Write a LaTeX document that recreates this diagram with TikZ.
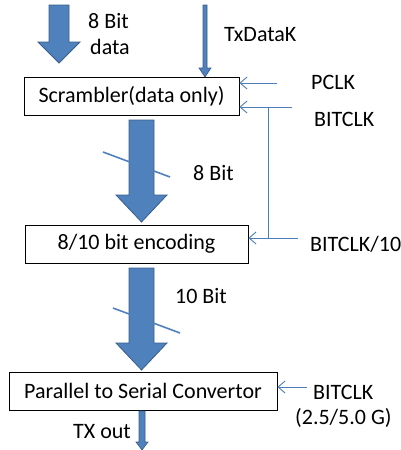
\documentclass[tikz,border=0pt]{standalone}
\usepackage{fontspec}
\setmainfont{Carlito}
\usetikzlibrary{arrows.meta}
\definecolor{arrowfill}{HTML}{4F81BD}
\definecolor{arrowedge}{HTML}{385D8A}
\definecolor{clkline}{HTML}{4A7EBB}
\tikzset{
  stage/.style={draw=black, line width=0.8pt, minimum height=38pt, inner sep=0pt, font=\fontsize{22}{26}\selectfont},
  lbl/.style={anchor=west, inner sep=0pt, font=\fontsize{22}{26}\selectfont},
  blockarrow/.style={fill=arrowfill, draw=arrowedge, line width=0.8pt, line join=miter},
  clk/.style={draw=clkline, line width=0.9pt, -{Straight Barb[length=7pt,width=12pt]}},
  clkwire/.style={draw=clkline, line width=0.9pt},
  buswidth/.style={draw=arrowfill, line width=1.6pt}
}
\begin{document}
\begin{tikzpicture}[x=1pt,y=-1pt]
\useasboundingbox (0,0) rectangle (400,450);

% processing stages
\node[stage, minimum width=215pt] (scr) at (131.5,96) {Scrambler(data only)};
\node[stage, minimum width=223pt] (enc) at (136.5,244) {8/10 bit encoding};
\node[stage, minimum width=268pt] (p2s) at (143,391) {Parallel to Serial Convertor};

% labels
\node[lbl] (l8a) at (88,21) {8 Bit};
\node[lbl] (l8b) at (90,47) {data};
\node[lbl] (ltx) at (224,35) {TxDataK};
\node[lbl] (lpclk) at (311,82) {PCLK};
\node[lbl] (lbit) at (314,119) {BITCLK};
\node[lbl] (l8) at (193,173) {8 Bit};
\node[lbl] (lbit10) at (310,244) {BITCLK/10};
\node[lbl] (l10) at (175,296) {10 Bit};
\node[lbl] (lbit2) at (313,392) {BITCLK};
\node[lbl] (lrate) at (295,418) {(2.5/5.0 G)};
\node[lbl] (lout) at (73,432) {TX out};

% wide data arrows
\draw[blockarrow] (49,5) -- (69,5) -- (69,42) -- (80,42) -- (59,63) -- (38,42) -- (49,42) -- cycle;
\draw[blockarrow] (129,120) -- (154,120) -- (154,195) -- (167,195) -- (141.5,222) -- (116,195) -- (129,195) -- cycle;
\draw[blockarrow] (129,268) -- (154,268) -- (154,343) -- (167,343) -- (141.5,370) -- (116,343) -- (129,343) -- cycle;

% narrow control / output arrows
\draw[blockarrow, line width=0.6pt] (203,5) -- (207,5) -- (207,68) -- (211,68) -- (205,77) -- (199,68) -- (203,68) -- cycle;
\draw[blockarrow, line width=0.6pt] (139,411) -- (145,411) -- (145,442) -- (148,442) -- (142,450) -- (136,442) -- (139,442) -- cycle;

% bus width marks
\draw[buswidth] (103,152) -- (170,177);
\draw[buswidth] (113,308) -- (180,333);

% clock inputs
\coordinate (pclkin) at (277,83);
\coordinate (bitin) at (292,107);
\coordinate (tap) at (268,107);
\coordinate (bend) at (268,238);
\coordinate (bit10in) at (298,238);
\coordinate (bit2in) at (307,387);
\draw[clk] (pclkin) -- (pclkin -| scr.east);
\draw[clk] (bitin) -- (bitin -| scr.east);
\draw[clkwire] (tap) -- (bend);
\draw[clk] (bit10in) -- (bit10in -| enc.east);
\draw[clk] (bit2in) -- (bit2in -| p2s.east);
\end{tikzpicture}
\end{document}
